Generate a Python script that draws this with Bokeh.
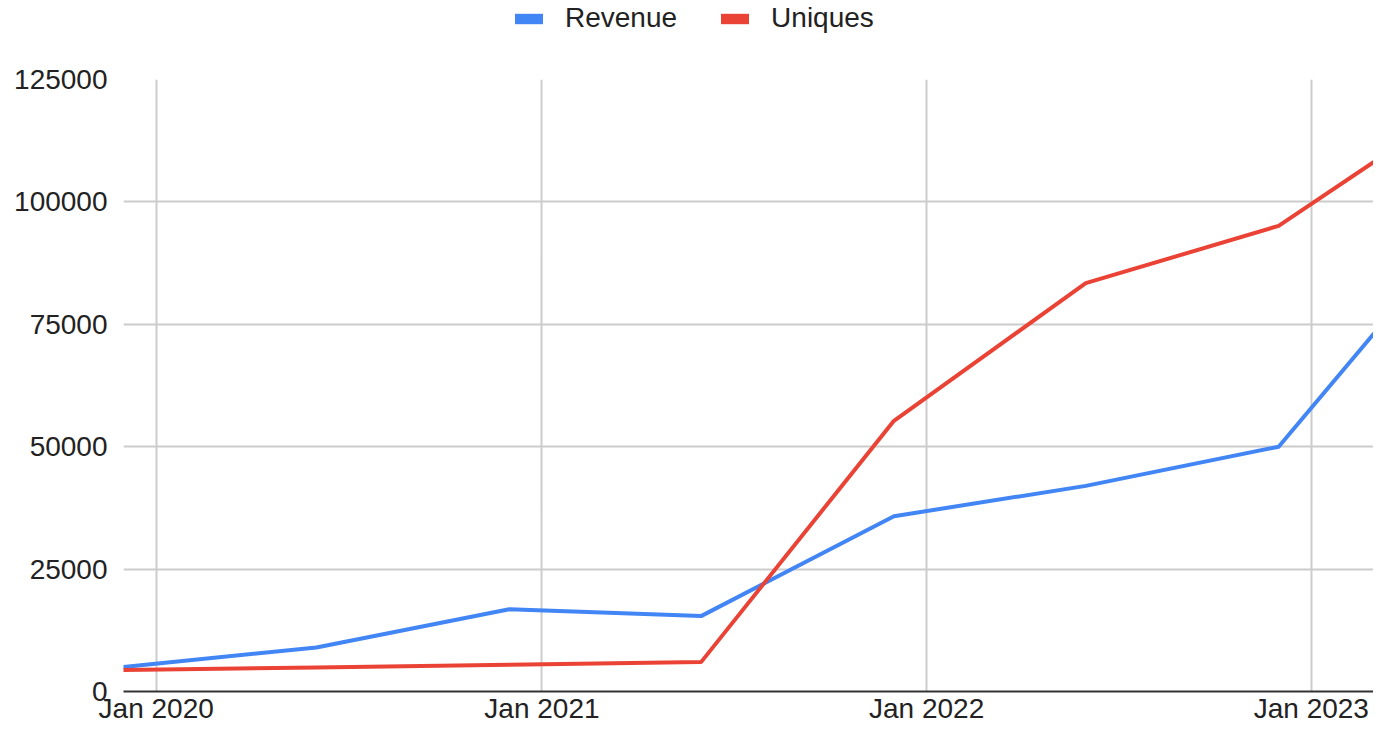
import pandas as pd
from bokeh.plotting import figure
from bokeh.layouts import column
from bokeh.models import (ColumnDataSource, Legend, LegendItem, FixedTicker,
                          DatetimeTickFormatter, BasicTickFormatter, Range1d)
from bokeh.embed import file_html
from bokeh.resources import INLINE

# ---- data ----
dates = ["2019-12-01", "2020-06-01", "2020-12-01", "2021-06-01",
         "2021-12-01", "2022-06-01", "2022-12-01", "2023-03-01"]
revenue = [5000, 9000, 16800, 15400, 35800, 42000, 50000, 73000]
uniques = [4400, 4900, 5470, 6000, 55300, 83400, 95100, 108100]
tick_years = ["2020-01-01", "2021-01-01", "2022-01-01", "2023-01-01"]
y_ticks = [0, 25000, 50000, 75000, 100000, 125000]
series_names = ["Revenue", "Uniques"]
colors = ["#4285F4", "#EA4335"]

FONT = "Liberation Sans"
FS = "28px"
TXT = "#222222"
W = 1373
LEG_H = 50

x = pd.to_datetime(dates)
src = ColumnDataSource(dict(x=x, revenue=revenue, uniques=uniques))
xr = Range1d(x[0], x[-1])
yr = Range1d(y_ticks[0], y_ticks[-1])

# ---------- legend strip ----------
lp = figure(width=W, height=LEG_H, x_axis_type="datetime", output_backend="svg",
            toolbar_location=None, x_range=xr, y_range=yr,
            min_border=0, min_border_left=0, min_border_right=0,
            min_border_top=0, min_border_bottom=0)
lp.axis.visible = False
lp.grid.visible = False
lp.outline_line_color = None
# zero-area quads at the data points: only their legend swatches show
sw1 = lp.quad(left="x", right="x", top="revenue", bottom="revenue", source=src,
              fill_color=colors[0], line_color=None)
sw2 = lp.quad(left="x", right="x", top="uniques", bottom="uniques", source=src,
              fill_color=colors[1], line_color=None)
legend = Legend(items=[LegendItem(label=series_names[0], renderers=[sw1]),
                       LegendItem(label=series_names[1], renderers=[sw2])],
                orientation="horizontal", location=(388, 16),
                padding=0, margin=0, spacing=40, label_standoff=19,
                glyph_width=35, glyph_height=13,
                label_text_font=FONT, label_text_font_size=FS,
                label_text_color=TXT,
                border_line_color=None, background_fill_alpha=0)
lp.add_layout(legend, "center")

# ---------- main chart ----------
p = figure(width=W, height=726 - LEG_H, x_axis_type="datetime",
           output_backend="svg", toolbar_location=None,
           x_range=xr, y_range=yr,
           min_border_left=123, min_border_right=0, min_border_top=79 - LEG_H,
           min_border_bottom=30)
p.outline_line_color = None
p.background_fill_color = "white"

p.line("x", "revenue", source=src, line_color=colors[0], line_width=4,
       line_join="round", line_cap="round")
p.line("x", "uniques", source=src, line_color=colors[1], line_width=4,
       line_join="round", line_cap="round")

tick_ms = [pd.Timestamp(t).value // 10**6 for t in tick_years]
p.xaxis.ticker = FixedTicker(ticks=tick_ms)
fmt = "%b %Y"
p.xaxis.formatter = DatetimeTickFormatter(years=fmt, months=fmt, days=fmt,
                                          hours=fmt, minutes=fmt, seconds=fmt,
                                          milliseconds=fmt, microseconds=fmt)
p.yaxis.ticker = FixedTicker(ticks=y_ticks)
p.yaxis.formatter = BasicTickFormatter(use_scientific=False)

for ax in (p.xaxis[0], p.yaxis[0]):
    ax.major_label_text_font = FONT
    ax.major_label_text_font_size = FS
    ax.major_label_text_color = TXT
    ax.major_tick_line_color = None
    ax.minor_tick_line_color = None
    ax.major_tick_out = 0
    ax.major_tick_in = 0
p.yaxis.axis_line_color = None
p.yaxis.major_label_standoff = 16
p.xaxis.axis_line_color = "#333333"
p.xaxis.axis_line_width = 2
p.xaxis.major_label_standoff = 1

p.xgrid.grid_line_color = "#cccccc"
p.xgrid.grid_line_width = 2
p.ygrid.grid_line_color = "#cccccc"
p.ygrid.grid_line_width = 2

layout = column(lp, p, spacing=0)
open("out.html", "w").write(file_html(layout, INLINE))
